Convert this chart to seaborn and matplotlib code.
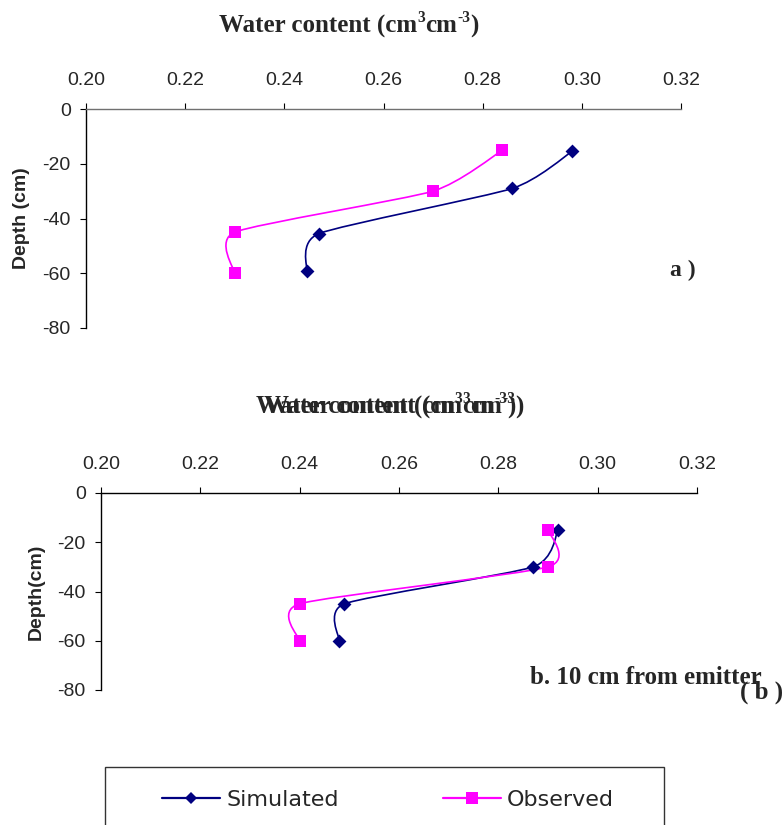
import numpy as np
import pandas as pd
import matplotlib
matplotlib.use("Agg")
import matplotlib.pyplot as plt
import seaborn as sns
from matplotlib.path import Path
from matplotlib.patches import PathPatch, Rectangle
from matplotlib.lines import Line2D

# ---------------- data ----------------
depth_a_sim = [-15.5, -29, -45.5, -59]
wc_a_sim = [0.298, 0.286, 0.247, 0.2445]
depth_a_obs = [-15, -30, -45, -60]
wc_a_obs = [0.284, 0.270, 0.230, 0.230]

depth_b_sim = [-15, -30, -45, -60]
wc_b_sim = [0.292, 0.287, 0.249, 0.248]
depth_b_obs = [-15, -30, -45, -60]
wc_b_obs = [0.290, 0.290, 0.240, 0.240]

x_ticks = [0.20, 0.22, 0.24, 0.26, 0.28, 0.30, 0.32]
y_ticks = [0, -20, -40, -60, -80]
series_names = ["Simulated", "Observed"]
title_parts = [("Water content (cm", False), ("3", True), ("cm", False), ("-3", True), (")", False)]

SIM_COLOR = "#000080"
OBS_COLOR = "#FF00FF"

sns.set_theme(style="white")
plt.rcParams["font.family"] = ["Liberation Sans", "DejaVu Sans"]

W, H = 783, 825
fig = plt.figure(figsize=(W / 100, H / 100), dpi=100)
renderer = fig.canvas.get_renderer()


def frac_box(left, right, top, bottom):
    return [left / W, 1 - bottom / H, (right - left) / W, (bottom - top) / H]


def smooth_patch(xs, ys, color, t=0.1):
    pts = np.column_stack([xs, ys]).astype(float)
    n = len(pts)
    verts = [pts[0]]
    codes = [Path.MOVETO]
    for i in range(n - 1):
        p0 = pts[i - 1] if i > 0 else pts[i]
        p1 = pts[i]
        p2 = pts[i + 1]
        p3 = pts[i + 2] if i + 2 < n else pts[i + 1]
        c1 = p1 + (p2 - p0) * t
        c2 = p2 - (p3 - p1) * t
        verts += [c1, c2, p2]
        codes += [Path.CURVE4] * 3
    return PathPatch(Path(verts, codes), facecolor="none", edgecolor=color, lw=1.2, zorder=2)


def draw_title(cx_px, cy_px, size=18):
    """Draw the title with real superscripts, centred at (cx_px, cy_px) from top-left."""
    texts = []
    x = 0.0
    for s, sup in title_parts:
        fs = size * 0.62 if sup else size
        dy = size * 0.42 if sup else 0
        t = fig.text(0, 0, s, fontsize=fs, family="Liberation Serif", fontweight="bold",
                     ha="left", va="baseline")
        texts.append((t, x, dy))
        x += t.get_window_extent(renderer).width
    total = x
    base_y = H - cy_px - size * 0.35
    x0 = cx_px - total / 2
    for t, xo, dy in texts:
        t.set_position(((x0 + xo) / W, (base_y + dy * 100 / 72) / H))


def draw_panel(ax, wc_sim, d_sim, wc_obs, d_obs, ylabel, spine_color, lab_x):
    ax.add_patch(smooth_patch(wc_sim, d_sim, SIM_COLOR))
    ax.add_patch(smooth_patch(wc_obs, d_obs, OBS_COLOR))
    df_s = pd.DataFrame({"wc": wc_sim, "depth": d_sim})
    df_o = pd.DataFrame({"wc": wc_obs, "depth": d_obs})
    sns.scatterplot(data=df_s, x="wc", y="depth", marker="D", s=50, color=SIM_COLOR,
                    edgecolor=SIM_COLOR, linewidth=0, ax=ax, zorder=3, legend=False)
    sns.scatterplot(data=df_o, x="wc", y="depth", marker="s", s=80, color=OBS_COLOR,
                    edgecolor=OBS_COLOR, linewidth=0, ax=ax, zorder=3, legend=False)
    ax.set_xlim(0.20, 0.32)
    ax.set_ylim(-80, 0)
    ax.set_xticks(x_ticks)
    ax.set_xticklabels([f"{v:.2f}" for v in x_ticks])
    ax.set_yticks(y_ticks)
    ax.set_yticklabels([str(v) for v in y_ticks])
    ax.xaxis.tick_top()
    ax.set_xlabel("")
    ax.set_ylabel(ylabel, fontsize=14, fontweight="bold", labelpad=0)
    ax.yaxis.set_label_coords(lab_x, 0.5)
    for s in ["right", "bottom"]:
        ax.spines[s].set_visible(False)
    ax.spines["top"].set_color(spine_color)
    ax.spines["top"].set_linewidth(1.0)
    ax.spines["left"].set_color("black")
    ax.spines["left"].set_linewidth(1.0)
    ax.tick_params(axis="x", which="both", top=True, bottom=False, direction="out",
                   length=4.5, width=0.8, color="black", pad=10, labelsize=14)
    ax.tick_params(axis="y", which="both", left=True, direction="out",
                   length=4.5, width=0.8, color="black", pad=6.5, labelsize=14)
    ax.set_facecolor("none")


ax_a = fig.add_axes(frac_box(86, 681, 109, 328))
draw_panel(ax_a, wc_a_sim, depth_a_sim, wc_a_obs, depth_a_obs, "Depth (cm)", "#707070",
           -(86 - 30) / 595)

ax_b = fig.add_axes(frac_box(101, 697, 493, 690))
draw_panel(ax_b, wc_b_sim, depth_b_sim, wc_b_obs, depth_b_obs, "Depth(cm)", "black",
           -(101 - 45) / 596)

draw_title(349, 26)
# doubled title of panel b (as in the reference)
draw_title(386, 407)
draw_title(394, 407)

fig.text(683 / W, 1 - 270 / H, "a )", ha="center", va="center", fontsize=17,
         family="Liberation Serif", fontweight="bold")
fig.text(530 / W, 1 - 678 / H, "b. 10 cm from emitter", ha="left", va="center", fontsize=18,
         family="Liberation Serif", fontweight="bold")
fig.text(740 / W, 1 - 692 / H, "( b )", ha="left", va="center", fontsize=18,
         family="Liberation Serif", fontweight="bold")

# legend frame (cut by the bottom edge of the figure)
fig.patches.append(Rectangle((105 / W, -0.05), (664 - 105) / W, 0.05 + (1 - 767 / H),
                             transform=fig.transFigure, facecolor="none",
                             edgecolor="#333333", lw=1.0))
handles = [
    Line2D([], [], color=SIM_COLOR, lw=1.6, marker="D", markersize=6.5, markeredgewidth=0),
    Line2D([], [], color=OBS_COLOR, lw=1.6, marker="s", markersize=8.5, markeredgewidth=0),
]
fig.legend(handles, series_names, loc="center", bbox_to_anchor=(388 / W, 1 - 800 / H),
           ncol=2, frameon=False, prop={"family": "DejaVu Sans", "size": 16},
           handlelength=2.6, handletextpad=0.27, columnspacing=4.7)

fig.savefig("out.png", dpi=100)
